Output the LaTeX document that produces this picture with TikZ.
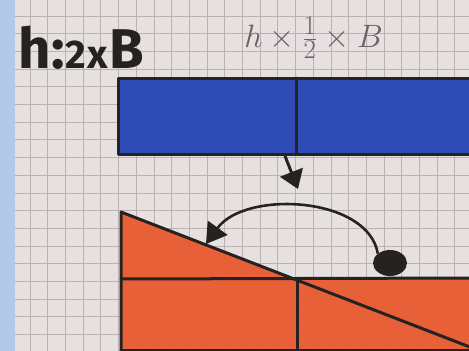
\documentclass[tikz,border=0pt]{standalone}
\usepackage{fontspec}
\setsansfont{Fira Sans}
\usetikzlibrary{arrows.meta,shapes.geometric}
\definecolor{paper}{HTML}{E6E0E0}
\definecolor{gridc}{HTML}{BCB0B1}
\definecolor{strip}{HTML}{B3C9EA}
\definecolor{bluefill}{HTML}{2A47B4}
\definecolor{orangefill}{HTML}{E85A2E}
\definecolor{ink}{HTML}{262222}
\definecolor{pencil}{HTML}{6A6264}
\tikzset{
  gridline/.style={draw=gridc, line width=1pt},
  outline/.style={draw=ink, line width=3pt, line cap=round, line join=round},
  thickarrow/.style={draw=ink, line width=3pt, -{Triangle[width=24pt,length=18pt]}},
  curvearrow/.style={draw=ink, line width=2.6pt, -{Triangle[width=24pt,length=20pt]}},
  marker/.style={text=ink, font=\sffamily\bfseries, inner sep=0pt},
  pencilnote/.style={text=pencil, inner sep=0pt, font=\Huge, scale=1.3},
}
\begin{document}
\begin{tikzpicture}[x=1pt,y=-1pt]
\useasboundingbox (0,0) rectangle (469,351);
\fill[paper] (0,0) rectangle (469,351);
% grid paper
\foreach \k in {1,...,26} \draw[gridline] ({12.4+17.7*\k},0) -- ({12.4+17.7*\k},351);
\foreach \k in {0,...,19} \draw[gridline] (0,{16+17.7*\k}) -- (469,{16+17.7*\k});
\fill[strip] (0,0) rectangle (15,351);
% blue strip
\fill[bluefill, opacity=0.97] (118,78) rectangle (475,154);
\draw[outline] (475,78) -- (118,78) -- (118,154) -- (475,154);
\draw[outline] (296,78) -- (296,154);
% orange shape
\fill[orangefill, opacity=0.95] (121,212) -- (293,278) -- (475,278) -- (475,355) -- (121,355) -- cycle;
\draw[outline] (121,352) -- (121,212) -- (475,349);
\draw[outline] (121,279) -- (475,278);
\draw[outline] (297,278) -- (297,352);
\draw[outline] (121,350) -- (475,350);
% texts
\node[marker, font=\sffamily\bfseries\fontsize{56}{56}\selectfont, anchor=base west] (t1) at (18,68) {h\kern1pt:{\fontsize{40}{40}\selectfont\kern1pt2\kern1pt x\kern1pt}B};
\node[pencilnote, anchor=base west] (t2) at (244,47) {$h\times\frac{1}{2}\times B$};
% down arrow
\coordinate (a1) at (285,156);
\coordinate (a2) at (298,189);
\draw[thickarrow] (a1) -- (a2);
% dot and curved arrow
\node[ellipse, fill=ink, minimum width=34pt, minimum height=26pt, inner sep=0pt] (dot) at (390,263) {};
\coordinate (a3) at (206,244);
\draw[curvearrow] (dot.north west) .. controls (368,196) and (245,190) .. (a3);
\end{tikzpicture}
\end{document}
